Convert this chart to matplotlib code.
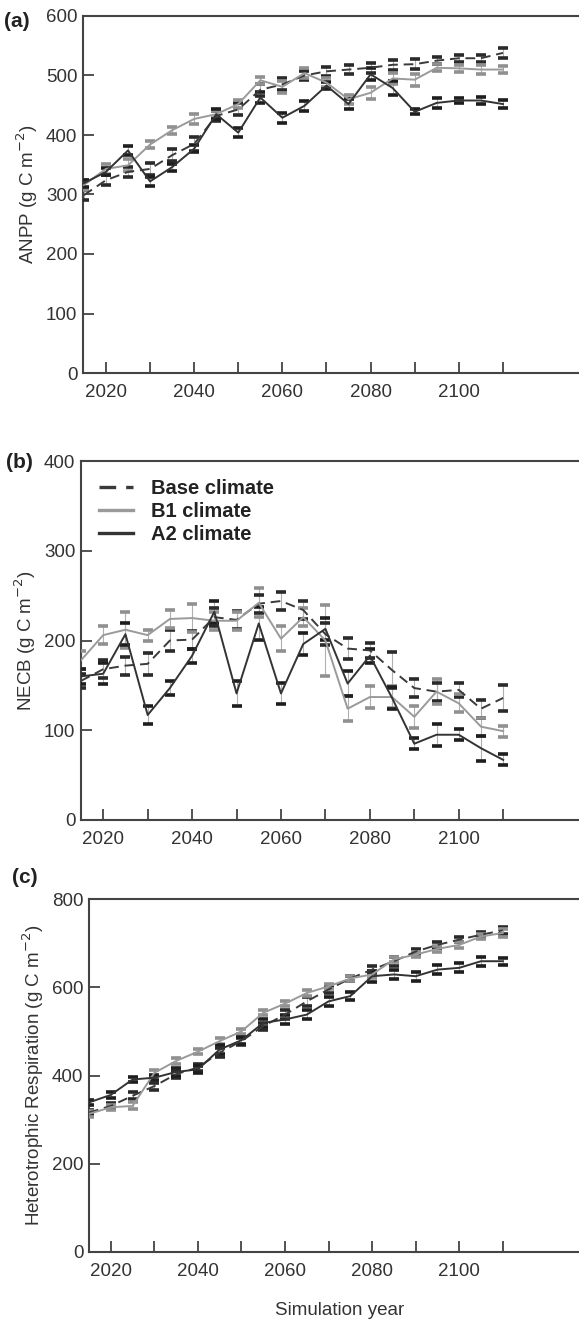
import matplotlib
matplotlib.use("Agg")
import matplotlib.pyplot as plt
from matplotlib.lines import Line2D

plt.rcParams['font.family'] = ['Liberation Sans', 'DejaVu Sans']

years = [2015, 2020, 2025, 2030, 2035, 2040, 2045, 2050, 2055, 2060,
         2065, 2070, 2075, 2080, 2085, 2090, 2095, 2100, 2105, 2110]

# (a) ANPP
anpp_base = [299, 324, 338, 343, 366, 385, 432, 443, 476, 485,
             500, 507, 510, 513, 518, 519, 525, 529, 529, 538]
anpp_b1 = [316, 343, 349, 384, 408, 427, 435, 452, 492, 481,
           504, 488, 460, 471, 495, 493, 513, 512, 510, 510]
anpp_a2 = [319, 338, 374, 322, 346, 377, 435, 404, 463, 429,
           449, 483, 452, 502, 479, 439, 454, 458, 458, 452]
anpp_base_err = [8, 8, 8, 10, 10, 12, 8, 10, 10, 10, 8, 8, 8, 8, 8, 8, 6, 6, 6, 8]
anpp_b1_err = [8, 8, 10, 6, 6, 8, 6, 6, 6, 10, 8, 8, 8, 10, 10, 10, 6, 6, 8, 6]
anpp_a2_err = [6, 6, 8, 8, 6, 6, 8, 8, 10, 8, 8, 6, 8, 10, 12, 4, 8, 4, 6, 6]

# (b) NECB
necb_base = [155, 168, 172, 174, 200, 201, 226, 223, 241, 244,
             234, 207, 191, 189, 167, 147, 143, 145, 124, 136]
necb_b1 = [178, 206, 212, 206, 224, 225, 222, 222, 242, 202,
           226, 200, 124, 137, 137, 115, 143, 130, 104, 99]
necb_a2 = [160, 163, 207, 117, 147, 183, 232, 141, 219, 141,
           196, 213, 152, 183, 136, 85, 95, 95, 80, 67]
necb_base_err = [8, 10, 10, 12, 12, 10, 10, 10, 10, 10, 10, 12, 12, 8, 20, 10, 10, 8, 10, 14]
necb_b1_err = [10, 10, 20, 6, 10, 16, 10, 10, 16, 14, 10, 40, 14, 12, 12, 12, 14, 10, 10, 6]
necb_a2_err = [8, 12, 12, 10, 8, 8, 12, 14, 18, 12, 12, 12, 14, 8, 12, 6, 12, 6, 14, 6]

# (c) Heterotrophic respiration
rh_base = [316, 331, 354, 376, 403, 418, 452, 478, 512, 538,
           568, 595, 620, 640, 659, 681, 696, 708, 719, 729]
rh_b1 = [313, 328, 331, 406, 433, 454, 478, 500, 542, 563,
         587, 602, 620, 629, 663, 674, 687, 696, 715, 723]
rh_a2 = [339, 356, 391, 395, 408, 414, 459, 480, 519, 527,
         538, 568, 580, 625, 629, 625, 640, 644, 659, 659]
rh_base_err = [6, 6, 8, 8, 8, 8, 10, 8, 8, 10, 10, 8, 6, 8, 10, 6, 6, 6, 6, 8]
rh_b1_err = [6, 6, 8, 6, 6, 6, 6, 6, 6, 6, 6, 6, 6, 8, 6, 6, 6, 6, 6, 8]
rh_a2_err = [6, 6, 6, 6, 8, 8, 10, 8, 10, 10, 10, 10, 10, 12, 10, 10, 10, 10, 10, 8]

series_names = ["Base climate", "B1 climate", "A2 climate"]
line_colors = ["#3a3a3a", "#9a9a9a", "#333333"]
cap_colors = ["#2a2a2a", "#909090", "#1e1e1e"]
line_styles = [(0, (5, 3)), "-", "-"]

W, H = 579, 1319
fig = plt.figure(figsize=(W / 100, H / 100), dpi=100)
TXT = "#333333"


def make_ax(left, top, bottom, x0, x1, px_per_year):
    width = (x1 - x0) * px_per_year
    return fig.add_axes([left / W, (H - bottom) / H, width / W, (bottom - top) / H])


def draw_panel(ax, datas, errs, ymax, ystep, ylabel):
    for d, e, lc, cc, ls in zip(datas, errs, line_colors, cap_colors, line_styles):
        ax.errorbar(years, d, yerr=e, fmt="none", ecolor="#b0b0b0",
                    elinewidth=0.8, linestyle=":", capsize=0, zorder=2)
        lo = [v - ee for v, ee in zip(d, e)]
        hi = [v + ee for v, ee in zip(d, e)]
        ax.plot(years, lo, linestyle="none", marker="_", markersize=6.5,
                markeredgewidth=2.6, color=cc, zorder=3)
        ax.plot(years, hi, linestyle="none", marker="_", markersize=6.5,
                markeredgewidth=2.6, color=cc, zorder=3)
        ax.plot(years, d, color=lc, linestyle=ls, linewidth=1.4, zorder=4)
    ax.set_ylim(0, ymax)
    ax.set_yticks(range(0, ymax + 1, ystep))
    ax.set_xticks(range(2020, 2111, 10), minor=False)
    ax.set_xticklabels([str(y) if y % 20 == 0 else "" for y in range(2020, 2111, 10)])
    ax.tick_params(direction="in", length=8, width=1.3, color="#444444",
                   labelsize=13.5, labelcolor=TXT, pad=4)
    ax.tick_params(axis="x", pad=8)
    ax.spines["right"].set_visible(False)
    for s in ["left", "top", "bottom"]:
        ax.spines[s].set_linewidth(1.5)
        ax.spines[s].set_color("#444444")
    ax.set_ylabel(ylabel, fontsize=13.5, color=TXT, labelpad=4)


axa = make_ax(83, 16, 373, 2014.8, 2130, 4.411)
axa.set_xlim(2014.8, 2130)
draw_panel(axa, [anpp_base, anpp_b1, anpp_a2], [anpp_base_err, anpp_b1_err, anpp_a2_err],
           600, 100, "ANPP (g C m$^{-2}$)")

axb = make_ax(81, 461, 820, 2015, 2130, 4.444)
axb.set_xlim(2015, 2130)
draw_panel(axb, [necb_base, necb_b1, necb_a2], [necb_base_err, necb_b1_err, necb_a2_err],
           400, 100, "NECB (g C m$^{-2}$)")

axc = make_ax(89, 899, 1252, 2015, 2130, 4.356)
axc.set_xlim(2015, 2130)
draw_panel(axc, [rh_base, rh_b1, rh_a2], [rh_base_err, rh_b1_err, rh_a2_err],
           800, 200, "Heterotrophic Respiration (g C m$^{-2}$)")
axc.set_xlabel("Simulation year", fontsize=13.5, color=TXT, labelpad=16)

handles = [Line2D([0], [0], color=c, linestyle=ls, linewidth=2.4)
           for c, ls in zip(line_colors, line_styles)]
leg = axb.legend(handles, series_names, loc="upper left", frameon=False,
                 prop={"weight": "bold", "size": 14.5}, handlelength=1.7,
                 labelspacing=0.2, borderaxespad=0.5, handletextpad=0.9)
for t in leg.get_texts():
    t.set_color("#222222")

fig.text(4 / W, 1 - 27 / H, "(a)", fontsize=15, fontweight="bold", color="#222222")
fig.text(6 / W, 1 - 468 / H, "(b)", fontsize=15, fontweight="bold", color="#222222")
fig.text(12 / W, 1 - 883 / H, "(c)", fontsize=15, fontweight="bold", color="#222222")

fig.savefig("out.png", dpi=100)
